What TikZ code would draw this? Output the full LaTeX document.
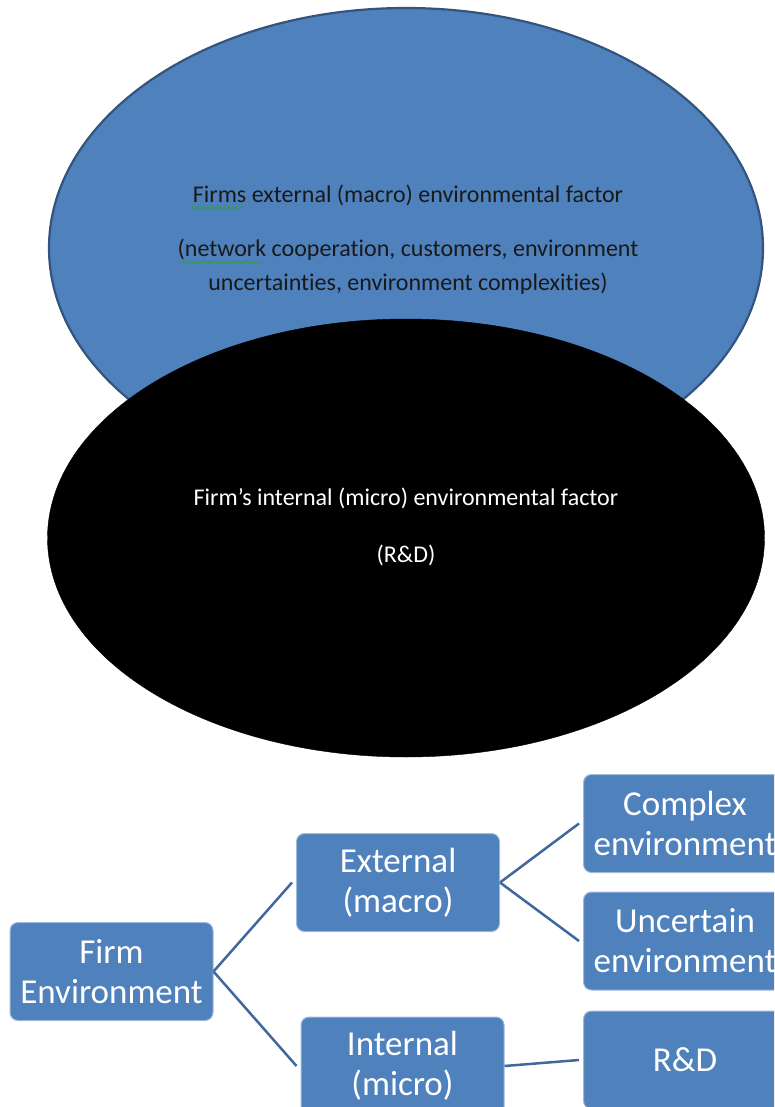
\documentclass[tikz,border=0pt]{standalone}
\usepackage{fontspec}
\setmainfont{Carlito}[Ligatures={NoCommon}]
\usetikzlibrary{shapes.geometric,positioning,decorations.pathmorphing}
\definecolor{boxblue}{RGB}{79,129,189}
\definecolor{rimblue}{RGB}{52,84,125}
\definecolor{linkblue}{RGB}{65,104,156}
\definecolor{spellgreen}{RGB}{50,160,60}

\begin{document}
\begin{tikzpicture}[x=1pt, y=1pt,
  envbox/.style={draw=boxblue!55!white, line width=1pt, fill=boxblue, rounded corners=8pt,
    minimum width=203pt, minimum height=98pt, inner sep=0pt, align=center, text=white,
    font=\fontsize{35}{40}\selectfont},
  link/.style={draw=linkblue, line width=2.5pt},
  squiggle/.style={draw=spellgreen, line width=0.8pt, decorate,
    decoration={snake, amplitude=1.3pt, segment length=4pt}}]
  \useasboundingbox (0,0) rectangle (774,-1107);
  \clip (0,0) rectangle (774,-1107);

  %% --- ELLIPSES (top) ---
  \node[ellipse, draw=rimblue, line width=2.2pt, fill=boxblue, minimum width=714pt, minimum height=480pt, inner sep=0pt] (macro) at (406,-248) {};
  \node[ellipse, draw=black, fill=black, minimum width=717pt, minimum height=438pt, inner sep=0pt] (micro) at (406,-538) {};

  \node[align=center, text=black!90, font=\fontsize{24}{34}\selectfont] (macrotext) at (408,-240)
    {Firms external (macro) environmental factor\\[20pt]
     (network cooperation, customers, environment\\uncertainties, environment complexities)};
  \node[align=center, text=white, font=\fontsize{24}{34}\selectfont] (microtext) at (406,-527)
    {Firm’s internal (micro) environmental factor\\[23pt](R\&D)};

  %% spell-check marks
  \draw[squiggle] (191,-208) -- (243,-208);
  \draw[squiggle] (182,-262) -- (262,-262);

  %% --- TREE (bottom) ---
  \node[envbox] (firm)      at (111.5,-971.5) {Firm\\Environment};
  \node[envbox] (external)  at (398,-882.5)   {External\\(macro)};
  \node[envbox] (internal)  at (402.5,-1066)  {Internal\\(micro)};
  \node[envbox] (complex)   at (685,-823.5)   {Complex\\environment};
  \node[envbox] (uncertain) at (685,-941)     {Uncertain\\environment};
  \node[envbox] (rnd)       at (685,-1060)    {R\&D};

  \draw[link] (firm.east) -- ([xshift=-4pt]external.west);
  \draw[link] (firm.east) -- ([xshift=-4pt]internal.west);
  \draw[link] (external.east) -- ([xshift=-4pt]complex.west);
  \draw[link] (external.east) -- ([xshift=-4pt]uncertain.west);
  \draw[link] (internal.east) -- ([xshift=-4pt]rnd.west);
\end{tikzpicture}
\end{document}
